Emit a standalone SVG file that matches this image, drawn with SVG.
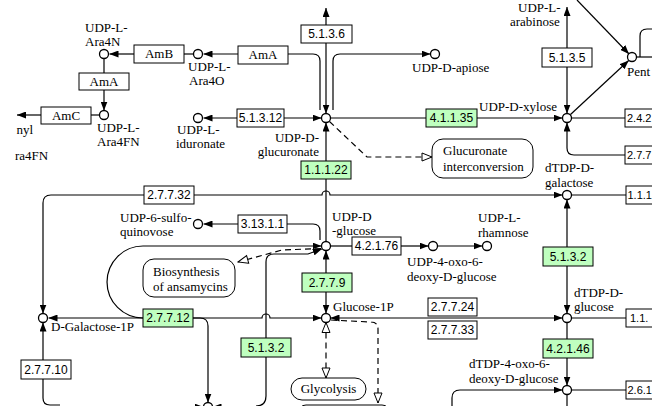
<svg xmlns="http://www.w3.org/2000/svg" width="652" height="406" viewBox="0 0 652 406">
<style>
.ln{fill:none;stroke:#000;stroke-width:1.2}
.ds{fill:none;stroke:#000;stroke-width:1.2;stroke-dasharray:6,4}
.cp{fill:#fff;stroke:#000;stroke-width:1.3}
.ec{fill:#fff;stroke:#000;stroke-width:1}
.gr{fill:#bfffbf;stroke:#000;stroke-width:1}
.et{font-family:"Liberation Sans",Arial,sans-serif;font-size:12px;fill:#000;text-anchor:middle}
.es{font-family:"Liberation Sans",Arial,sans-serif;font-size:11px;fill:#000}
.lb{font-family:"Liberation Serif","Times New Roman",serif;font-size:13px;fill:#000}
.gt{font-family:"Liberation Serif","Times New Roman",serif;font-size:13px;fill:#000;text-anchor:middle}
.mp{fill:#fff;stroke:#000;stroke-width:1}
</style>
<defs>
<marker id="a" viewBox="0 0 9 7" refX="9" refY="3.5" markerWidth="9" markerHeight="7" orient="auto-start-reverse" markerUnits="userSpaceOnUse"><path d="M0,0 L9,3.5 L0,7 z" fill="#000"/></marker>
<marker id="h" viewBox="-1 -1 12 10" refX="10" refY="4" markerWidth="12" markerHeight="10" orient="auto-start-reverse" markerUnits="userSpaceOnUse"><path d="M0,0 L10,4 L0,8 z" fill="#fff" stroke="#000" stroke-width="1"/></marker>
</defs>
<rect width="652" height="406" fill="#fff"/>

<g id="connectors">
<path class="ln" d="M134,54 L109.5,54" marker-end="url(#a)"/>
<path class="ln" d="M184,54 L193.5,54"/>
<path class="ln" d="M238,54 L203.5,54" marker-end="url(#a)"/>
<path class="ln" d="M288,54 L313,54 Q320,54 320,61 L320,110"/>
<path class="ln" d="M104,58.5 L104,73"/>
<path class="ln" d="M104,90 L104,110.5" marker-end="url(#a)"/>
<path class="ln" d="M91,115 L99.5,115"/>
<path class="ln" d="M41,115 L17,115" marker-end="url(#a)"/>
<path class="ln" d="M333,110 L333,61 Q333,54 340,54 L430.5,54" marker-end="url(#a)"/>
<path class="ln" d="M326,25 L326,8" marker-end="url(#a)"/>
<path class="ln" d="M326,43 L326,113.5" marker-end="url(#a)"/>
<path class="ln" d="M237,118 L203.5,118" marker-end="url(#a)"/>
<path class="ln" d="M284,118 L321.5,118" marker-end="url(#a)"/>
<path class="ln" d="M330.5,118 L426,118"/>
<path class="ln" d="M477,118 L562.5,118" marker-end="url(#a)"/>
<path class="ds" d="M329.5,121.5 L367,157 L432,157" marker-end="url(#h)"/>
<path class="ln" d="M326,161 L326,122.5" marker-end="url(#a)"/>
<path class="ln" d="M326,179 L326,241.5"/>
<path class="ln" d="M144,195 L51,195 Q43,195 43,203 L43,313.5" marker-end="url(#a)"/>
<path class="ln" d="M194,195 L322,195 A4,4 0 0 1 330,195 L562.5,195" marker-end="url(#a)"/>
<path class="ln" d="M238,224 L203.5,224" marker-end="url(#a)"/>
<path class="ln" d="M287,224 L313,224 Q320,224 320,231 L320,240"/>
<path class="ln" d="M143,318 L48.5,318" marker-end="url(#a)"/>
<path class="ln" d="M143,318 A36,36 0 0 1 143,246 L321.5,246" marker-end="url(#a)"/>
<path class="ln" d="M193,318 L262,318 A4,4 0 0 1 270,318 L321.5,318" marker-end="url(#a)"/>
<path class="ln" d="M193,318 L200,318 Q208,318 208,326 L208,402.5" marker-end="url(#a)"/>
<path class="ln" d="M190,407 L203.5,407" marker-end="url(#a)"/>
<path class="ln" d="M226,407 L212.5,407" marker-end="url(#a)"/>
<path class="ds" d="M321,248.5 L282,250 L238,262" marker-end="url(#h)"/>
<path class="ln" d="M256,406 Q266,406 266,396 L266,262 Q266,254 274,254 L308,254 L321.8,249" marker-end="url(#a)"/>
<path class="ln" d="M326,273 L326,250.5" marker-end="url(#a)"/>
<path class="ln" d="M326,292 L326,313.5" marker-end="url(#a)"/>
<path class="ln" d="M330.5,246 L352,246"/>
<path class="ln" d="M401,246 L428.5,246" marker-end="url(#a)"/>
<path class="ln" d="M437.5,246 L482.5,246" marker-end="url(#a)"/>
<path class="ln" d="M330.5,318 L562.5,318" marker-start="url(#a)" marker-end="url(#a)"/>
<path class="ds" d="M331,320 L371,322 Q378,322 378,329 L378,403" marker-end="url(#h)"/>
<path class="ds" d="M326,322.5 L326,378" marker-start="url(#h)" marker-end="url(#h)"/>
<path class="ln" d="M43,360 L43,322.5" marker-end="url(#a)"/>
<path class="ln" d="M43,379 L43,398 Q43,405 50,405 L60,405"/>
<path class="ln" d="M567,48 L567,7" marker-end="url(#a)"/>
<path class="ln" d="M567,67 L567,113.5" marker-end="url(#a)"/>
<path class="ln" d="M577,0 L629,54" marker-end="url(#a)"/>
<path class="ln" d="M570.5,114.5 L628.7,60.5" marker-end="url(#a)"/>
<path class="ln" d="M636.5,57 L652,57"/>
<path class="ln" d="M640,57 L640,36 Q640,29 647,29 L652,29"/>
<path class="ln" d="M571.5,118 L625,118"/>
<path class="ln" d="M625,155 L574,155 Q567,155 567,148 L567,122.5" marker-end="url(#a)"/>
<path class="ln" d="M571.5,195 L626,195"/>
<path class="ln" d="M567,247 L567,199.5" marker-end="url(#a)"/>
<path class="ln" d="M567,266 L567,313.5" marker-end="url(#a)"/>
<path class="ln" d="M571.5,318 L626,318"/>
<path class="ln" d="M567,322.5 L567,339"/>
<path class="ln" d="M567,358 L567,385.5" marker-end="url(#a)"/>
<path class="ln" d="M452,406 L452,398 Q452,390 460,390 L562.5,390" marker-end="url(#a)"/>
<path class="ln" d="M571.5,390 L626,390"/>
<path class="ln" d="M567,394.5 L567,406"/>
</g>

<g id="udp-l-ara4n"><circle class="cp" cx="104" cy="54" r="4.5"/><text class="lb" x="85" y="32">UDP-L-</text><text class="lb" x="85" y="46">Ara4N</text></g>
<g id="udp-l-ara4o"><circle class="cp" cx="198" cy="54" r="4.5"/><text class="lb" x="188" y="71">UDP-L-</text><text class="lb" x="189" y="85">Ara4O</text></g>
<g id="udp-l-ara4fn"><circle class="cp" cx="104" cy="115" r="4.5"/><text class="lb" x="97" y="132">UDP-L-</text><text class="lb" x="97" y="146">Ara4FN</text></g>
<g id="undecaprenyl"><text class="lb" x="33" y="134" text-anchor="end">nyl</text><text class="lb" x="15" y="160">ra4FN</text></g>
<g id="udp-l-iduronate"><circle class="cp" cx="198" cy="118" r="4.5"/><text class="lb" x="177" y="134">UDP-L-</text><text class="lb" x="176" y="148">iduronate</text></g>
<g id="udp-d-glucuronate"><circle class="cp" cx="326" cy="118" r="4.5"/><text class="lb" x="319" y="142" text-anchor="end">UDP-D-</text><text class="lb" x="319" y="156" text-anchor="end">glucuronate</text></g>
<g id="udp-d-apiose"><circle class="cp" cx="435" cy="54" r="4.5"/><text class="lb" x="412" y="72">UDP-D-apiose</text></g>
<g id="udp-l-arabinose"><text class="lb" x="518" y="12">UDP-L-</text><text class="lb" x="510" y="26">arabinose</text></g>
<g id="udp-d-xylose"><circle class="cp" cx="567" cy="118" r="4.5"/><text class="lb" x="479" y="111">UDP-D-xylose</text></g>
<g id="pentose"><circle class="cp" cx="632" cy="57" r="4.5"/><text class="lb" x="627" y="76">Pent</text></g>
<g id="dtdp-d-galactose"><circle class="cp" cx="567" cy="195" r="4.5"/><text class="lb" x="545" y="172">dTDP-D-</text><text class="lb" x="545" y="187">galactose</text></g>
<g id="udp-6-sulfoquinovose"><circle class="cp" cx="198" cy="224" r="4.5"/><text class="lb" x="120" y="222">UDP-6-sulfo-</text><text class="lb" x="120" y="236">quinovose</text></g>
<g id="udp-d-glucose"><circle class="cp" cx="326" cy="246" r="4.5"/><text class="lb" x="332" y="221">UDP-D</text><text class="lb" x="332" y="235">-glucose</text></g>
<g id="udp-4-oxo"><circle class="cp" cx="433" cy="246" r="4.5"/><text class="lb" x="407" y="266">UDP-4-oxo-6-</text><text class="lb" x="407" y="281">deoxy-D-glucose</text></g>
<g id="udp-l-rhamnose"><circle class="cp" cx="487" cy="246" r="4.5"/><text class="lb" x="478" y="222">UDP-L-</text><text class="lb" x="478" y="237">rhamnose</text></g>
<g id="glucose-1p"><circle class="cp" cx="326" cy="318" r="4.5"/><text class="lb" x="333" y="311">Glucose-1P</text></g>
<g id="d-galactose-1p"><circle class="cp" cx="43" cy="318" r="4.5"/><text class="lb" x="51" y="331">D-Galactose-1P</text></g>
<g id="dtdp-d-glucose"><circle class="cp" cx="567" cy="318" r="4.5"/><text class="lb" x="574" y="297">dTDP-D-</text><text class="lb" x="574" y="311">glucose</text></g>
<g id="dtdp-4-oxo"><circle class="cp" cx="567" cy="390" r="4.5"/><text class="lb" x="469" y="368">dTDP-4-oxo-6-</text><text class="lb" x="469" y="383">deoxy-D-glucose</text></g>
<g id="bottom-cpd"><circle class="cp" cx="208" cy="407" r="4.5"/></g>

<g id="map-glucuronate"><rect class="mp" x="432" y="139" width="101" height="39" rx="11"/><text class="lb" x="443" y="155">Glucuronate</text><text class="lb" x="443" y="171">interconversion</text></g>
<g id="map-ansamycins"><rect class="mp" x="143" y="259" width="92" height="38" rx="11"/><text class="lb" x="153" y="276">Biosynthesis</text><text class="lb" x="153" y="291">of ansamycins</text></g>
<g id="map-glycolysis"><rect class="mp" x="291" y="378" width="75" height="22" rx="11"/><text class="gt" x="328.5" y="393">Glycolysis</text></g>
<g id="map-bottom"><rect class="mp" x="298" y="405" width="92" height="20" rx="8"/></g>

<g id="AmB"><rect class="ec" x="134" y="45" width="50" height="18"/><text class="gt" x="159" y="58">AmB</text></g>
<g id="AmA-1"><rect class="ec" x="238" y="46" width="50" height="18"/><text class="gt" x="263" y="59">AmA</text></g>
<g id="AmA-2"><rect class="ec" x="79" y="73" width="50" height="17"/><text class="gt" x="104" y="86">AmA</text></g>
<g id="AmC"><rect class="ec" x="41" y="107" width="50" height="17"/><text class="gt" x="66" y="120">AmC</text></g>
<g id="ec-5.1.3.6"><rect class="ec" x="301" y="25" width="51" height="18"/><text class="et" x="326.5" y="38">5.1.3.6</text></g>
<g id="ec-5.1.3.12"><rect class="ec" x="237" y="109" width="47" height="18"/><text class="et" x="260.5" y="122">5.1.3.12</text></g>
<g id="ec-4.1.1.35"><rect class="gr" x="426" y="109" width="51" height="18"/><text class="et" x="451.5" y="122">4.1.1.35</text></g>
<g id="ec-5.1.3.5"><rect class="ec" x="542" y="48" width="50" height="19"/><text class="et" x="567" y="62">5.1.3.5</text></g>
<g id="ec-2.4.2"><rect class="ec" x="625" y="109" width="40" height="18"/><text class="es" x="627" y="122">2.4.2</text></g>
<g id="ec-2.7.7"><rect class="ec" x="625" y="146" width="40" height="18"/><text class="es" x="627" y="159">2.7.7</text></g>
<g id="ec-1.1.1.22"><rect class="gr" x="301" y="161" width="50" height="18"/><text class="et" x="326" y="174">1.1.1.22</text></g>
<g id="ec-2.7.7.32"><rect class="ec" x="144" y="186" width="50" height="18"/><text class="et" x="169" y="199">2.7.7.32</text></g>
<g id="ec-1.1.1"><rect class="ec" x="626" y="186" width="40" height="18"/><text class="es" x="627.5" y="199">1.1.1</text></g>
<g id="ec-3.13.1.1"><rect class="ec" x="238" y="215" width="49" height="18"/><text class="et" x="262.5" y="228">3.13.1.1</text></g>
<g id="ec-4.2.1.76"><rect class="ec" x="352" y="237" width="49" height="18"/><text class="et" x="376.5" y="250">4.2.1.76</text></g>
<g id="ec-5.1.3.2-r"><rect class="gr" x="543" y="247" width="50" height="19"/><text class="et" x="568" y="261">5.1.3.2</text></g>
<g id="ec-2.7.7.9"><rect class="gr" x="302" y="273" width="50" height="19"/><text class="et" x="327" y="287">2.7.7.9</text></g>
<g id="ec-2.7.7.12"><rect class="gr" x="143" y="309" width="50" height="18"/><text class="et" x="168" y="322">2.7.7.12</text></g>
<g id="ec-2.7.7.24"><rect class="ec" x="428" y="298" width="49" height="18"/><text class="et" x="452.5" y="311">2.7.7.24</text></g>
<g id="ec-2.7.7.33"><rect class="ec" x="428" y="321" width="49" height="18"/><text class="et" x="452.5" y="334">2.7.7.33</text></g>
<g id="ec-1.1."><rect class="ec" x="626" y="309" width="40" height="18"/><text class="es" x="630" y="322">1.1.</text></g>
<g id="ec-5.1.3.2-l"><rect class="gr" x="241" y="338" width="50" height="19"/><text class="et" x="266" y="352">5.1.3.2</text></g>
<g id="ec-4.2.1.46"><rect class="gr" x="543" y="339" width="50" height="19"/><text class="et" x="568" y="353">4.2.1.46</text></g>
<g id="ec-2.7.7.10"><rect class="ec" x="21" y="360" width="50" height="19"/><text class="et" x="46" y="374">2.7.7.10</text></g>
<g id="ec-2.6.1"><rect class="ec" x="626" y="381" width="40" height="18"/><text class="es" x="627.5" y="394">2.6.1</text></g>
</svg>
